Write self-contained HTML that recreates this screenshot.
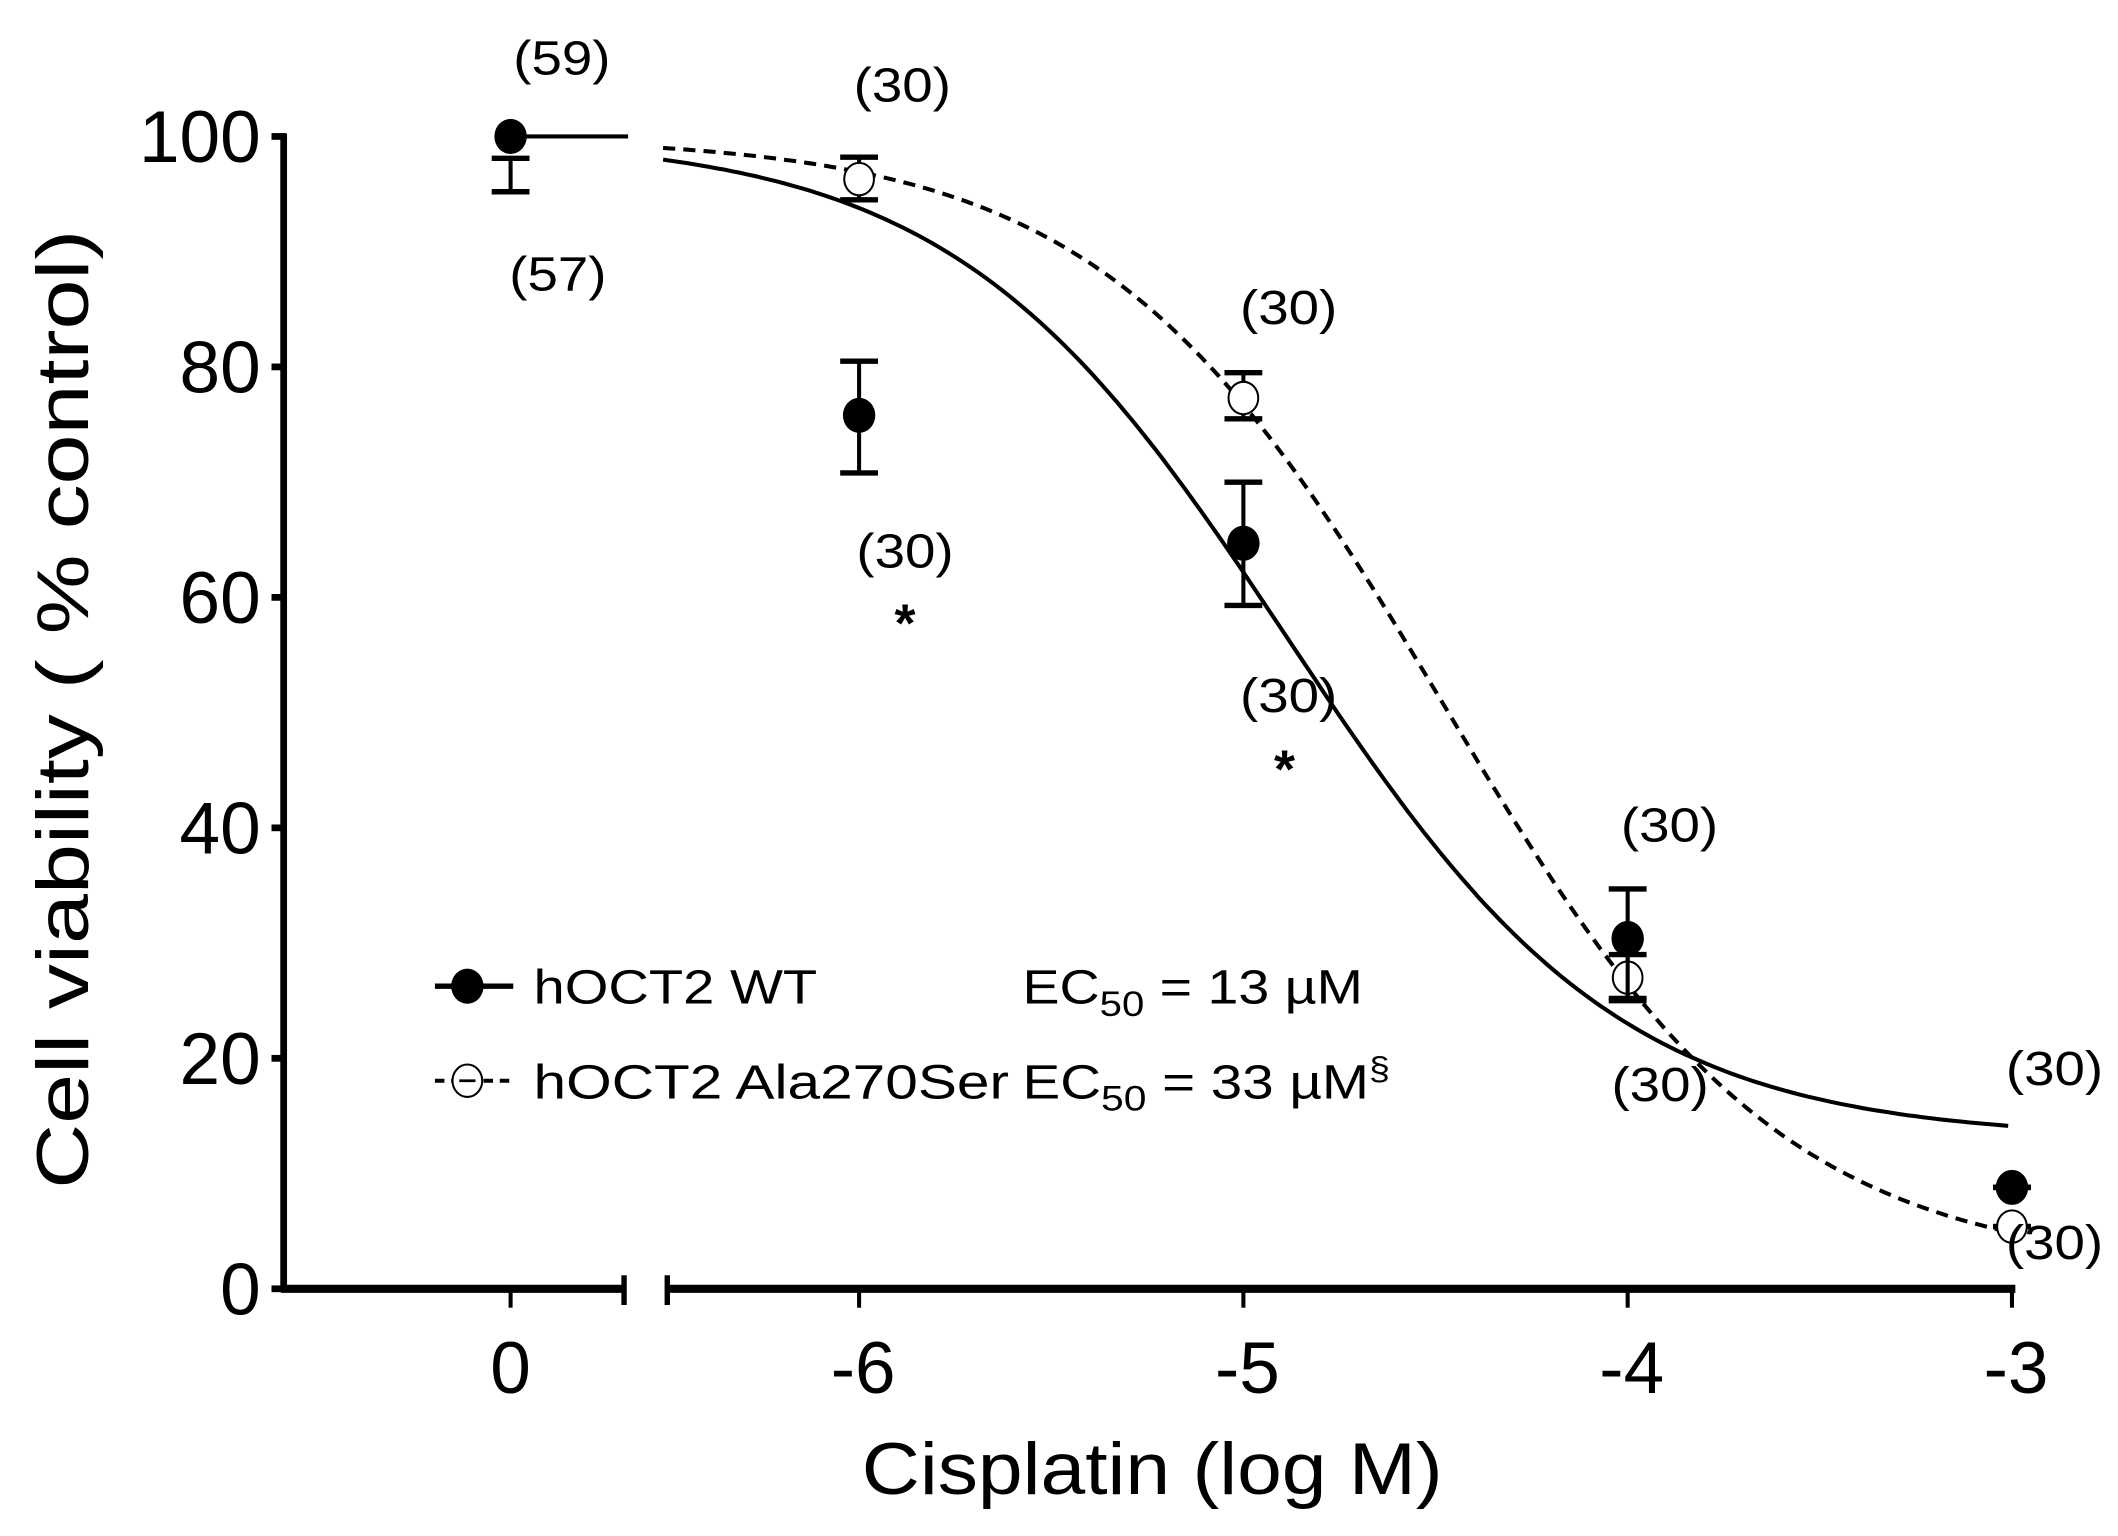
<!DOCTYPE html>
<html><head><meta charset="utf-8"><style>
html,body{margin:0;padding:0;background:#fff}
svg{display:block}
text{font-family:"Liberation Sans",Arial,sans-serif;fill:#000}
</style></head><body>
<svg id="chart" width="2118" height="1536" viewBox="0 0 1568 1137" preserveAspectRatio="none" xmlns="http://www.w3.org/2000/svg">
<g id="axes"></g>
<g id="curves"></g>
<g id="marks"></g>
<g id="annot"></g>
<g id="legend">
  <line x1="322" y1="730" x2="380" y2="730" stroke="#000" stroke-width="4"/>
  <ellipse cx="346" cy="730" rx="12" ry="13" fill="#000"/>
  <text x="395" y="743" font-size="36" textLength="210" lengthAdjust="spacingAndGlyphs">hOCT2 WT</text>
  <text x="757" y="743" font-size="36" textLength="252" lengthAdjust="spacingAndGlyphs">EC<tspan font-size="26" dy="9">50</tspan><tspan dy="-9"> = 13 µM</tspan></text>
  <line x1="322" y1="800" x2="380" y2="800" stroke="#000" stroke-width="3" stroke-dasharray="7,5"/>
  <ellipse cx="346" cy="800" rx="11" ry="12" fill="#fff" stroke="#000" stroke-width="1.5"/>
  <line x1="340" y1="800" x2="352" y2="800" stroke="#000" stroke-width="2"/>
  <text x="395" y="813" font-size="36" textLength="352" lengthAdjust="spacingAndGlyphs">hOCT2 Ala270Ser</text>
  <text x="757" y="813" font-size="36" textLength="272" lengthAdjust="spacingAndGlyphs">EC<tspan font-size="26" dy="9">50</tspan><tspan dy="-9"> = 33 µM</tspan><tspan font-size="24" dy="-14">§</tspan></text>
</g>
</svg>
<script>
// ---- data ----
const yTicks = [0, 20, 40, 60, 80, 100];
const xTickLabels = ["0", "-6", "-5", "-4", "-3"];
const xTickValues = [0, -6, -5, -4, -3]; // 0 = control (no drug)
const wtLog = [-6, -5, -4, -3];
const wtMean = [75.8, 64.7, 30.4, 8.8];
const wtLow = [70.8, 59.3, 25.2, 8.8];
const wtHigh = [80.5, 70.0, 34.7, 8.8];
const alaMean = [96.3, 77.3, 27.0, 5.4];
const alaLow = [94.5, 75.5, 25.0, 5.4];
const alaHigh = [98.2, 79.5, 29.0, 5.4];
const ctrlMean = [100];
const ctrlLow = [95.2];
const ctrlHigh = [98.1];
const wtFit = [100, 13, -4.886, 1.0];   // top, bottom, logEC50, hill
const alaFit = [100, 1.5, -4.48, 0.98];
const ctrlLabels = ["(59)", "(57)"];
const nLabels = ["(30)","(30)","(30)","(30)","(30)","(30)","(30)","(30)"];

const NS = "http://www.w3.org/2000/svg";
function mk(tag, attrs, parent){ const e=document.createElementNS(NS,tag); for(const k in attrs) e.setAttribute(k,attrs[k]); parent.appendChild(e); return e; }
function y(v){ return 954 - v*8.53; }
function x(lv){ return lv===0 ? 378 : 636 + (lv+6)*284.5; }

const axes=document.getElementById('axes');
let e;
e=mk('line',{x1:210,y1:99,x2:210,y2:956,stroke:'#000','stroke-width':5},axes);


yTicks.forEach(t=>{
  e=mk('line',{x1:201,y1:y(t),x2:212,y2:y(t),stroke:'#000','stroke-width':5},axes);
  
  
  e=mk('text',{x:193,y:y(t)+19,'font-size':54,'text-anchor':'end'},axes);
  e.textContent=t;
  
  
});
e=mk('line',{x1:208,y1:954,x2:462,y2:954,stroke:'#000','stroke-width':6},axes);


e=mk('line',{x1:494,y1:954,x2:1492,y2:954,stroke:'#000','stroke-width':6},axes);


[462,494].forEach(bx=>{
  e=mk('line',{x1:bx,y1:944,x2:bx,y2:966,stroke:'#000','stroke-width':4},axes);
  
  
});
xTickValues.forEach((v,i)=>{
  e=mk('line',{x1:x(v),y1:954,x2:x(v),y2:968,stroke:'#000','stroke-width':3},axes);
  
  
  e=mk('text',{x:x(v)+ (i===0?0:3),y:1031,'font-size':54,'text-anchor':'middle'},axes);
  e.textContent=xTickLabels[i];
  
  
});
e=mk('text',{x:853,y:1106,'font-size':54,'text-anchor':'middle',textLength:430,lengthAdjust:'spacingAndGlyphs'},axes);
e.textContent='Cisplatin (log M)';


e=mk('text',{x:0,y:0,'font-size':54,'text-anchor':'middle',transform:'translate(65,525) rotate(-90)',textLength:710,lengthAdjust:'spacingAndGlyphs'},axes);
e.textContent='Cell viability ( % control)';



// curves
function fit(p,lx){ return p[1] + (p[0]-p[1])/(1+Math.pow(10,(lx-p[2])*p[3])); }
const curves=document.getElementById('curves');
function curvePath(p,x0){ let d=''; for(let lx=x0; lx<=-3.0001+0.01; lx+=0.02){ d+=(d?'L':'M')+x(lx).toFixed(1)+','+y(fit(p,lx)).toFixed(1); } return d; }
e=mk('path',{d:curvePath(wtFit,-6.51),fill:'none',stroke:'#000','stroke-width':3},curves);


e=mk('path',{d:curvePath(alaFit,-6.51),fill:'none',stroke:'#000','stroke-width':3,'stroke-dasharray':'9,6'},curves);


e=mk('line',{x1:x(0),y1:y(ctrlMean[0]),x2:465,y2:y(ctrlMean[0]),stroke:'#000','stroke-width':3},curves);



const marks=document.getElementById('marks');
function errbar(cx,lo,hi,name){
  const g=mk('g',{},marks);
  
  
  mk('line',{x1:cx,y1:y(lo),x2:cx,y2:y(hi),stroke:'#000','stroke-width':3},g);
  mk('line',{x1:cx-14,y1:y(lo),x2:cx+14,y2:y(lo),stroke:'#000','stroke-width':4},g);
  mk('line',{x1:cx-14,y1:y(hi),x2:cx+14,y2:y(hi),stroke:'#000','stroke-width':4},g);
}
errbar(x(0),ctrlLow[0],ctrlHigh[0],'control-error-bar');
alaMean.forEach((m,i)=>{
  errbar(x(wtLog[i]),alaLow[i],alaHigh[i],'ala270ser-error-bar');
  e=mk('ellipse',{cx:x(wtLog[i]),cy:y(m),rx:11,ry:12,fill:'#fff',stroke:'#000','stroke-width':1.5},marks);
  
  
});
wtMean.forEach((m,i)=>{
  errbar(x(wtLog[i]),wtLow[i],wtHigh[i],'wt-error-bar');
  e=mk('ellipse',{cx:x(wtLog[i]),cy:y(m),rx:12,ry:13,fill:'#000'},marks);
  
  
});
e=mk('ellipse',{cx:x(0),cy:y(ctrlMean[0]),rx:12,ry:13,fill:'#000'},marks);



// annotations
const annot=document.getElementById('annot');
const ann=[[380,55,ctrlLabels[0]],[377,215,ctrlLabels[1]],[632,75,nLabels[0]],[634,420,nLabels[1]],[918,240,nLabels[2]],[918,527,nLabels[3]],[1200,623,nLabels[4]],[1193,815,nLabels[5]],[1485,803,nLabels[6]],[1485,932,nLabels[7]]];
ann.forEach(a=>{
  e=mk('text',{x:a[0],y:a[1],'font-size':36,textLength:72,lengthAdjust:'spacingAndGlyphs'},annot);
  e.textContent=a[2];
  
  
});
[[670,475],[951,583]].forEach(s=>{
  e=mk('text',{x:s[0],y:s[1],'font-size':40,'font-weight':'bold','text-anchor':'middle'},annot);
  e.textContent='*';
  
  
});
</script>
</body></html>
